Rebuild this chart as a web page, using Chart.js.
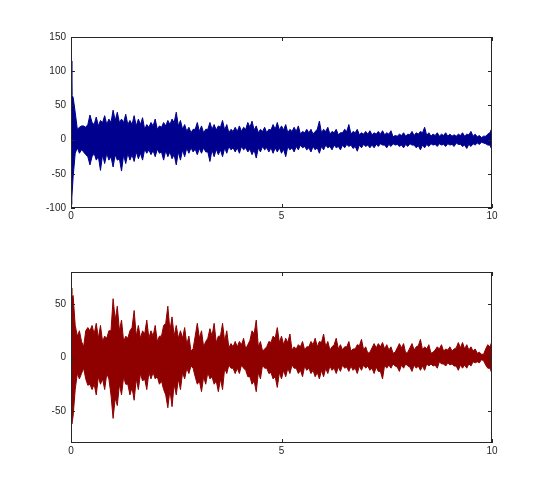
<!DOCTYPE html>
<html>
<head>
<meta charset="utf-8">
<script src="https://cdn.jsdelivr.net/npm/chart.js@4/dist/chart.umd.min.js"></script>
<style>
  body { margin: 0; background: #fff; }
  canvas { position: absolute; left: 0; }
</style>
</head>
<body>
<canvas id="topChart" width="545" height="240" style="top:0"></canvas>
<canvas id="bottomChart" width="545" height="260" style="top:240px"></canvas>
<script>
const times = [0, 0.02, 0.05, 0.1, 0.15, 0.2, 0.25, 0.3, 0.35, 0.4, 0.45, 0.5,
  0.6, 0.7, 0.8, 0.9, 1.0, 1.1, 1.2, 1.3, 1.4, 1.5, 1.6, 1.7, 1.8, 1.9, 2.0,
  2.1, 2.2, 2.3, 2.4, 2.5, 2.6, 2.7, 2.8, 2.9, 3.0, 3.1, 3.2, 3.3, 3.4, 3.5,
  3.6, 3.7, 3.8, 3.9, 4.0, 4.1, 4.2, 4.3, 4.4, 4.5, 4.6, 4.7, 4.8, 4.9, 5.0,
  5.1, 5.2, 5.3, 5.4, 5.5, 5.6, 5.7, 5.8, 5.9, 6.0, 6.1, 6.2, 6.3, 6.4, 6.5,
  6.6, 6.7, 6.8, 6.9, 7.0, 7.1, 7.2, 7.3, 7.4, 7.5, 7.6, 7.7, 7.8, 7.9, 8.0,
  8.1, 8.2, 8.3, 8.4, 8.5, 8.6, 8.7, 8.8, 8.9, 9.0, 9.1, 9.2, 9.3, 9.4, 9.5,
  9.6, 9.7, 9.8, 9.9, 10.0];
// time (s) of the envelope body between peaks
const midTimes = [0.55, 0.65, 0.75, 0.85, 0.95, 1.05, 1.15, 1.25, 1.35, 1.45,
  1.55, 1.65, 1.75, 1.85, 1.95, 2.05, 2.15, 2.25, 2.35, 2.45, 2.55, 2.65, 2.75,
  2.85, 2.95, 3.05, 3.15, 3.25, 3.35, 3.45, 3.55, 3.65, 3.75, 3.85, 3.95, 4.05,
  4.15, 4.25, 4.35, 4.45, 4.55, 4.65, 4.75, 4.85, 4.95, 5.05, 5.15, 5.25, 5.35,
  5.45, 5.55, 5.65, 5.75, 5.85, 5.95, 6.05, 6.15, 6.25, 6.35, 6.45, 6.55, 6.65,
  6.75, 6.85, 6.95, 7.05, 7.15, 7.25, 7.35, 7.45, 7.55, 7.65, 7.75, 7.85, 7.95,
  8.05, 8.15, 8.25, 8.35, 8.45, 8.55, 8.65, 8.75, 8.85, 8.95, 9.05, 9.15, 9.25,
  9.35, 9.45, 9.55, 9.65, 9.75, 9.85, 9.95];

// top signal
const topUpper = [115, 65, 62, 40, 15, 18, 20, 20, 18, 22, 36, 25,
  33, 28, 35, 30, 43, 40, 30, 37, 28, 35, 30, 32, 22, 25, 30,
  20, 25, 28, 30, 40, 28, 22, 18, 15, 25, 20, 15, 25, 22, 20,
  28, 22, 15, 18, 20, 18, 25, 27, 20, 15, 18, 15, 22, 25, 20,
  22, 15, 18, 20, 12, 15, 15, 12, 27, 15, 18, 12, 15, 10, 15,
  22, 12, 15, 10, 12, 13, 10, 12, 13, 10, 13, 6, 8, 10, 8,
  12, 10, 12, 18, 10, 8, 10, 8, 10, 8, 7, 8, 10, 8, 12,
  8, 6, 5, 8, 17];
const topUpperMid = [22, 20, 25, 22, 25, 28, 25, 25, 22, 22,
  20, 22, 15, 18, 20, 15, 18, 20, 22, 25, 20, 15, 12, 10, 15,
  12, 10, 15, 15, 14, 18, 14, 10, 12, 12, 12, 15, 18, 14, 10,
  12, 10, 14, 15, 14, 14, 10, 12, 12, 8, 10, 10, 8, 15, 10,
  12, 8, 10, 7, 10, 12, 8, 10, 7, 8, 8, 7, 8, 8, 7,
  8, 4, 5, 6, 5, 7, 6, 8, 10, 6, 5, 6, 5, 6, 5,
  5, 5, 6, 5, 7, 5, 4, 3, 5, 10];
const topLower = [-95, -85, -55, -20, -12, -20, -15, -18, -22, -25, -37, -25,
  -30, -45, -35, -30, -40, -30, -46, -35, -30, -32, -28, -30, -20, -22, -25,
  -20, -30, -25, -28, -37, -30, -25, -20, -18, -22, -20, -18, -32, -25, -22,
  -25, -20, -15, -18, -20, -15, -18, -22, -27, -18, -15, -18, -20, -18, -20,
  -25, -15, -18, -15, -12, -15, -18, -15, -20, -15, -12, -15, -12, -15, -12,
  -10, -13, -17, -12, -10, -12, -12, -10, -8, -12, -10, -8, -10, -12, -10,
  -8, -12, -15, -12, -10, -8, -10, -8, -10, -8, -10, -7, -10, -13, -10,
  -8, -7, -5, -8, -15];
const topLowerMid = [-20, -25, -22, -20, -25, -22, -28, -22, -20, -22,
  -18, -20, -14, -15, -16, -14, -18, -16, -18, -22, -18, -15, -12, -12, -14,
  -13, -12, -18, -15, -14, -15, -12, -10, -12, -12, -10, -12, -14, -15, -12,
  -10, -12, -12, -12, -12, -14, -10, -12, -10, -8, -10, -12, -10, -12, -10,
  -8, -10, -8, -10, -8, -7, -8, -10, -8, -7, -8, -8, -7, -6, -8,
  -7, -6, -7, -8, -7, -6, -8, -9, -8, -7, -6, -7, -6, -7, -6,
  -7, -5, -7, -8, -7, -6, -5, -4, -6, -8];

// bottom signal
const bottomUpper = [65, 55, 58, 30, 20, 25, 15, 10, 25, 28, 25, 30,
  32, 30, 20, 25, 55, 48, 35, 20, 25, 44, 30, 25, 35, 25, 30,
  20, 30, 48, 38, 30, 25, 28, 20, 8, 32, 25, 15, 27, 32, 20,
  32, 25, 13, 15, 15, 18, 12, 25, 35, 15, 8, 15, 20, 28, 20,
  18, 22, 10, 12, 15, 10, 15, 18, 15, 22, 15, 10, 18, 12, 10,
  15, 8, 12, 17, 10, 5, 13, 13, 14, 12, 10, 5, 13, 13, 5,
  13, 10, 17, 10, 12, 5, 10, 12, 8, 10, 8, 14, 14, 12, 10,
  8, 5, 3, 12, 15];
const bottomUpperMid = [22, 18, 15, 18, 25, 35, 25, 15, 18, 28,
  20, 18, 22, 18, 20, 15, 20, 32, 25, 20, 18, 18, 12, 6, 20,
  18, 10, 18, 20, 14, 20, 15, 9, 10, 10, 12, 8, 16, 22, 10,
  6, 10, 14, 18, 14, 12, 14, 7, 8, 10, 7, 10, 12, 10, 14,
  10, 7, 12, 8, 7, 10, 6, 8, 11, 7, 4, 9, 9, 10, 8,
  7, 4, 9, 9, 4, 9, 7, 11, 7, 8, 4, 7, 8, 6, 7,
  6, 9, 9, 8, 7, 6, 4, 3, 8, 10];
const bottomLower = [-60, -62, -55, -30, -15, -20, -15, -10, -20, -26, -25, -30,
  -35, -25, -30, -20, -57, -45, -35, -25, -35, -40, -30, -22, -30, -20, -20,
  -25, -30, -47, -46, -35, -30, -20, -15, -10, -25, -32, -25, -20, -25, -32,
  -30, -15, -10, -15, -15, -10, -18, -25, -32, -20, -10, -15, -20, -28, -20,
  -18, -15, -10, -15, -18, -12, -15, -18, -20, -18, -15, -12, -15, -13, -10,
  -13, -12, -15, -12, -10, -12, -15, -13, -20, -10, -10, -8, -13, -10, -8,
  -13, -10, -12, -12, -8, -8, -10, -6, -8, -7, -8, -12, -10, -10, -8,
  -5, -5, -3, -10, -15];
const bottomLowerMid = [-25, -18, -20, -15, -35, -38, -25, -18, -25, -28,
  -20, -15, -20, -14, -14, -18, -22, -35, -30, -25, -20, -14, -10, -8, -18,
  -22, -18, -14, -18, -22, -20, -10, -7, -10, -10, -7, -12, -18, -22, -14,
  -7, -10, -14, -18, -14, -12, -10, -7, -10, -12, -8, -10, -12, -14, -12,
  -10, -8, -10, -9, -7, -9, -8, -10, -8, -7, -8, -10, -9, -13, -7,
  -7, -6, -9, -7, -6, -9, -7, -8, -8, -6, -6, -7, -4, -6, -5,
  -6, -8, -7, -7, -6, -4, -4, -2, -7, -10];

const xTicks = [0, 5, 10];
const topYTicks = [-100, -50, 0, 50, 100, 150];
const bottomYTicks = [-50, 0, 50];

const tickFont = { family: 'Liberation Sans, Arial, sans-serif', size: 10 };

// merge peak and body samples into one time-ordered series
function toPoints(peaks, mids) {
  const pts = times.map((t, i) => ({ x: t, y: peaks[i] }))
    .concat(midTimes.map((t, i) => ({ x: t, y: mids[i] })));
  return pts.sort((a, b) => a.x - b.x);
}

// box around the plot with inward tick marks on all four sides
const boxPlugin = {
  id: 'box',
  afterDraw(chart) {
    const { ctx, chartArea: a, scales } = chart;
    ctx.save();
    ctx.strokeStyle = '#262626';
    ctx.lineWidth = 1;
    ctx.strokeRect(a.left + 0.5, a.top + 0.5, a.right - a.left - 1, a.bottom - a.top - 1);
    ctx.beginPath();
    scales.x.ticks.forEach(t => {
      const px = Math.round(scales.x.getPixelForValue(t.value)) + 0.5;
      ctx.moveTo(px, a.bottom); ctx.lineTo(px, a.bottom - 4);
      ctx.moveTo(px, a.top); ctx.lineTo(px, a.top + 4);
    });
    scales.y.ticks.forEach(t => {
      const py = Math.round(scales.y.getPixelForValue(t.value)) + 0.5;
      ctx.moveTo(a.left, py); ctx.lineTo(a.left + 4, py);
      ctx.moveTo(a.right, py); ctx.lineTo(a.right - 4, py);
    });
    ctx.stroke();
    ctx.restore();
  }
};

function makeChart(id, upper, upperMid, lower, lowerMid, color, yMin, yMax, yTicks, pad) {
  new Chart(document.getElementById(id), {
    type: 'line',
    data: {
      datasets: [
        {
          data: toPoints(upper, upperMid),
          borderColor: color, backgroundColor: color,
          borderWidth: 1, pointRadius: 0, tension: 0, fill: '+1'
        },
        {
          data: toPoints(lower, lowerMid),
          borderColor: color, backgroundColor: color,
          borderWidth: 1, pointRadius: 0, tension: 0, fill: false
        }
      ]
    },
    options: {
      responsive: false,
      animation: false,
      layout: { padding: pad },
      plugins: { legend: { display: false }, tooltip: { enabled: false } },
      scales: {
        x: {
          type: 'linear', min: 0, max: 10,
          grid: { display: false, drawTicks: false }, border: { display: false },
          afterBuildTicks: s => { s.ticks = xTicks.map(v => ({ value: v })); },
          afterFit: s => { s.height = 20; },
          ticks: { font: tickFont, color: '#262626', padding: 2, maxRotation: 0 }
        },
        y: {
          min: yMin, max: yMax,
          grid: { display: false, drawTicks: false }, border: { display: false },
          afterBuildTicks: s => { s.ticks = yTicks.map(v => ({ value: v })); },
          afterFit: s => { s.width = 71; },
          ticks: { font: tickFont, color: '#262626', padding: 5 }
        }
      }
    },
    plugins: [boxPlugin]
  });
}

makeChart('topChart', topUpper, topUpperMid, topLower, topLowerMid, '#00008f',
  -100, 150, topYTicks, { left: 0, right: 53, top: 37, bottom: 12 });
makeChart('bottomChart', bottomUpper, bottomUpperMid, bottomLower, bottomLowerMid, '#8f0000',
  -80, 80, bottomYTicks, { left: 0, right: 53, top: 32, bottom: 37 });
</script>
</body>
</html>
